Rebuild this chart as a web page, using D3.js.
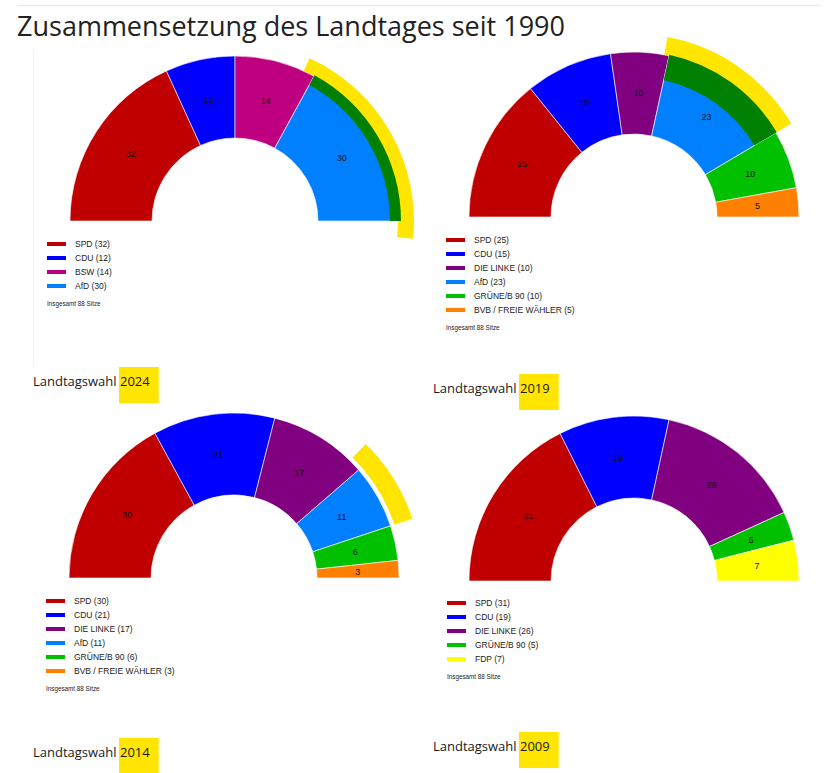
<!DOCTYPE html>
<html>
<head>
<meta charset="utf-8">
<script src="https://cdn.jsdelivr.net/npm/d3@7"></script>
<style>
  html, body { margin: 0; padding: 0; background: #fff; }
  svg { display: block; }
</style>
</head>
<body>
<svg id="chart" width="831" height="773"></svg>
<script>
// seat distribution, Landtag Brandenburg
var years = ['2024', '2019', '2014', '2009'];

var parties2024 = ['SPD', 'CDU', 'BSW', 'AfD'];
var seats2024 = [32, 12, 14, 30];

var parties2019 = ['SPD', 'CDU', 'DIE LINKE', 'AfD', 'GRÜNE/B 90', 'BVB / FREIE WÄHLER'];
var seats2019 = [25, 15, 10, 23, 10, 5];

var parties2014 = ['SPD', 'CDU', 'DIE LINKE', 'AfD', 'GRÜNE/B 90', 'BVB / FREIE WÄHLER'];
var seats2014 = [30, 21, 17, 11, 6, 3];

var parties2009 = ['SPD', 'CDU', 'DIE LINKE', 'GRÜNE/B 90', 'FDP'];
var seats2009 = [31, 19, 26, 5, 7];

var partyColor = {
  'SPD': '#c00000',
  'CDU': '#0000ff',
  'BSW': '#be0080',
  'AfD': '#0080ff',
  'DIE LINKE': '#800080',
  'GRÜNE/B 90': '#00c000',
  'BVB / FREIE WÄHLER': '#ff8000',
  'FDP': '#ffff00'
};

// where each panel sits on the page
var layout = [
  {parties: parties2024, seats: seats2024, cx: 235, cy: 221, lx: 47, ly: 244, capX: 33, capY: 386},
  {parties: parties2019, seats: seats2019, cx: 634, cy: 217, lx: 446, ly: 240, capX: 433, capY: 393},
  {parties: parties2014, seats: seats2014, cx: 234, cy: 578, lx: 46, ly: 601, capX: 33, capY: 757},
  {parties: parties2009, seats: seats2009, cx: 634, cy: 581, lx: 447, ly: 603, capX: 433, capY: 751}
];

// hand drawn marker strokes on the screenshot (radius offsets from the AfD slice)
var marks = [
  {panel: 0, green: [155, 166], yellow: [163, 179], pad: [0.07, 0.1]},
  {panel: 1, green: [140, 166], yellow: [160, 183], pad: [0.03, 0.0]},
  {panel: 2, green: null, yellow: [169, 188], pad: [0.08, 0.0]}
];

var rOuter = 165, rInner = 83;
var hl = '#ffe500';

var svg = d3.select('#chart');

// page frame
svg.append('line')
  .attr('x1', 18).attr('x2', 820).attr('y1', 5.5).attr('y2', 5.5)
  .attr('stroke', '#e8e8e8');
svg.append('line')
  .attr('x1', 33.5).attr('x2', 33.5).attr('y1', 50).attr('y2', 366)
  .attr('stroke', '#f0f0f0');

svg.append('text')
  .attr('x', 17).attr('y', 36)
  .attr('font-family', 'Open Sans')
  .attr('font-size', 27)
  .attr('fill', '#222')
  .text('Zusammensetzung des Landtages seit 1990');

var pie = d3.pie().sort(null).startAngle(-Math.PI / 2).endAngle(Math.PI / 2);
var arc = d3.arc().innerRadius(rInner).outerRadius(rOuter);

layout.forEach(function (p, i) {
  var g = svg.append('g').attr('transform', 'translate(' + p.cx + ',' + p.cy + ')');
  var slices = pie(p.seats);

  var mark = marks.filter(function (m) { return m.panel === i; })[0];
  var afd = null;
  if (mark) {
    afd = slices[p.parties.indexOf('AfD')];
    g.append('path')
      .attr('d', d3.arc()({
        innerRadius: mark.yellow[0], outerRadius: mark.yellow[1],
        startAngle: afd.startAngle - mark.pad[0], endAngle: afd.endAngle + mark.pad[1]
      }))
      .attr('fill', hl);
  }

  g.selectAll('path.slice')
    .data(slices)
    .enter().append('path')
    .attr('class', 'slice')
    .attr('d', arc)
    .attr('fill', function (d, j) { return partyColor[p.parties[j]]; })
    .attr('stroke', '#fff')
    .attr('stroke-width', 0.6);

  if (mark && mark.green) {
    g.append('path')
      .attr('d', d3.arc()({
        innerRadius: mark.green[0], outerRadius: mark.green[1],
        startAngle: afd.startAngle, endAngle: afd.endAngle
      }))
      .attr('fill', '#008000');
  }

  g.selectAll('text.val')
    .data(slices)
    .enter().append('text')
    .attr('class', 'val')
    .attr('transform', function (d) { return 'translate(' + arc.centroid(d) + ')'; })
    .attr('text-anchor', 'middle')
    .attr('dy', '0.35em')
    .attr('font-family', 'Liberation Sans, Arial, sans-serif')
    .attr('font-size', 9)
    .attr('fill', '#111')
    .text(function (d) { return d.data; });

  // legend
  var leg = svg.append('g').attr('transform', 'translate(' + p.lx + ',' + p.ly + ')');
  var row = leg.selectAll('g.row')
    .data(p.parties)
    .enter().append('g')
    .attr('transform', function (d, j) { return 'translate(0,' + j * 14 + ')'; });
  row.append('rect')
    .attr('x', 0).attr('y', -2).attr('width', 19).attr('height', 4)
    .attr('fill', function (d) { return partyColor[d]; });
  row.append('text')
    .attr('x', 28).attr('y', 3)
    .attr('font-family', 'Liberation Sans, Arial, sans-serif')
    .attr('font-size', 8.5)
    .attr('fill', '#222')
    .text(function (d, j) { return d + ' (' + p.seats[j] + ')'; });
  leg.append('text')
    .attr('x', 0).attr('y', (p.parties.length - 1) * 14 + 20)
    .attr('font-family', 'Liberation Sans, Arial, sans-serif')
    .attr('font-size', 6.3)
    .attr('fill', '#222')
    .text('Insgesamt ' + d3.sum(p.seats) + ' Sitze');

  // caption with highlighted year
  var cap = svg.append('g');
  var hlRect = cap.append('rect').attr('fill', hl);
  var txt = cap.append('text')
    .attr('x', p.capX).attr('y', p.capY)
    .attr('font-family', 'Open Sans')
    .attr('font-size', 13)
    .attr('fill', '#1a1a1a');
  txt.append('tspan').text('Landtagswahl ');
  var yr = txt.append('tspan').text(years[i]);
  var start = txt.node().getSubStringLength(0, 13);
  var w = yr.node().getComputedTextLength();
  hlRect
    .attr('x', p.capX + start - 1)
    .attr('y', p.capY - 19)
    .attr('width', w + 10)
    .attr('height', 36);
});
</script>
</body>
</html>
